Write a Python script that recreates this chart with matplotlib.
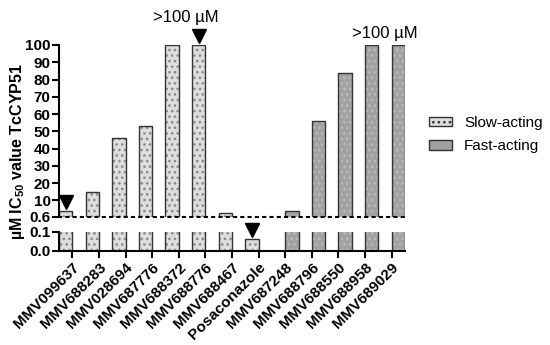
import numpy as np
import matplotlib
matplotlib.use("Agg")
import matplotlib.pyplot as plt
from matplotlib.patches import Patch
from matplotlib.transforms import offset_copy

plt.rcParams['font.family'] = ['Liberation Sans', 'DejaVu Sans']
plt.rcParams['mathtext.fontset'] = 'custom'
plt.rcParams['mathtext.bf'] = 'Liberation Sans:bold'
plt.rcParams['hatch.linewidth'] = 1.1

compounds = ['MMV099637', 'MMV688283', 'MMV028694', 'MMV687776', 'MMV688372',
             'MMV688776', 'MMV688467', 'Posaconazole', 'MMV687248', 'MMV688796',
             'MMV688550', 'MMV688958', 'MMV689029']
nan = np.nan
slow_ic50 = [4, 15, 46, 53, 100, 100, 3, 0.06, nan, nan, nan, nan, nan]
fast_ic50 = [nan, nan, nan, nan, nan, nan, nan, nan, 4, 56, 84, 100, 100]
arrow_slow = [0, 5, 7]          # bars marked with a down arrow
over_100 = [(4, 5, 'slow'), (11, 12, 'fast')]   # pairs labelled ">100 µM"
upper_ticks = [0.6, 10, 20, 30, 40, 50, 60, 70, 80, 90, 100]

slow_face, slow_dot = '#dedede', '#8a8a8a'
fast_face, fast_dot = '#a2a2a2', '#bbbbbb'
edge = '#333333'

fig = plt.figure(figsize=(5.5, 3.45), dpi=100)
ax_top = fig.add_axes([0.1073, 0.372, 0.629, 0.4977])
ax_bot = fig.add_axes([0.1073, 0.2733, 0.629, 0.0551])

x = np.arange(1, len(compounds) + 1)
w = 0.5

def draw_bars(ax, vals, side, face, dot):
    ax.bar(x, vals, width=side * w, align='edge', color=face, edgecolor=dot,
           hatch='...', linewidth=0)
    ax.bar(x, vals, width=side * w, align='edge', fill=False,
           edgecolor=edge, linewidth=1.0)

for ax in (ax_top, ax_bot):
    draw_bars(ax, slow_ic50, -1, slow_face, slow_dot)
    draw_bars(ax, fast_ic50, 1, fast_face, fast_dot)
    ax.set_xlim(0.5, 13.5)
    ax.spines['top'].set_visible(False)
    ax.spines['right'].set_visible(False)
    ax.spines['left'].set_linewidth(1.5)
    ax.tick_params(axis='y', width=1.5, length=5, labelsize=11, pad=1)

ax_top.set_ylim(0.6, 100)
ax_top.set_yticks(upper_ticks)
ax_top.set_yticklabels(['0.6'] + [str(v) for v in upper_ticks[1:]],
                       fontweight='bold', fontsize=11)
ax_top.spines['bottom'].set_linestyle((0, (1, 2.5)))
ax_top.spines['bottom'].set_linewidth(1.5)
ax_top.set_xticks([])

ax_bot.set_ylim(0, 0.1)
ax_bot.set_yticks([0.0, 0.1])
ax_bot.set_yticklabels(['0.0', '0.1'], fontweight='bold', fontsize=11)
ax_bot.spines['bottom'].set_linewidth(1.5)
ax_bot.set_xticks(x)
ax_bot.set_xticklabels(compounds, rotation=45, ha='right',
                       rotation_mode='anchor', fontweight='bold', fontsize=11)
ax_bot.tick_params(axis='x', width=1.5, length=5, pad=2)

# arrows above bars
for i in arrow_slow:
    v = slow_ic50[i]
    ax = ax_top if v >= 0.6 else ax_bot
    tr = offset_copy(ax.transData, fig=fig, x=0, y=9, units='dots')
    ax.plot(x[i] - w / 2, v, marker='v', markersize=10, color='black',
            transform=tr, clip_on=False)

# ">100 µM" labels
for i, j, grp in over_100:
    xs = (x[i] + x[j]) / 2 - (w / 2 if grp == 'slow' else -w / 2)
    dy = 27 if grp == 'slow' else 11
    tr = offset_copy(ax_top.transData, fig=fig, x=0, y=dy, units='dots')
    ax_top.text(xs, 100, '>100 \u00b5M', ha='center', va='center',
                fontsize=12, transform=tr, clip_on=False)

fig.text(0.031, 0.56, '\u00b5M IC$_{\\mathbf{50}}$ value TcCYP51',
         rotation=90, ha='center', va='center', fontsize=11.5,
         fontweight='bold')

handles = [Patch(facecolor=slow_face, edgecolor=edge, hatch='...', linewidth=1.0),
           Patch(facecolor=fast_face, edgecolor=edge, linewidth=1.0)]
fig.legend(handles, ['Slow-acting', 'Fast-acting'], loc='center left',
           bbox_to_anchor=(0.755, 0.61), frameon=False, fontsize=11,
           handlelength=1.5, handleheight=0.6, handletextpad=0.8,
           labelspacing=0.6)

fig.savefig('out.png', dpi=100)
